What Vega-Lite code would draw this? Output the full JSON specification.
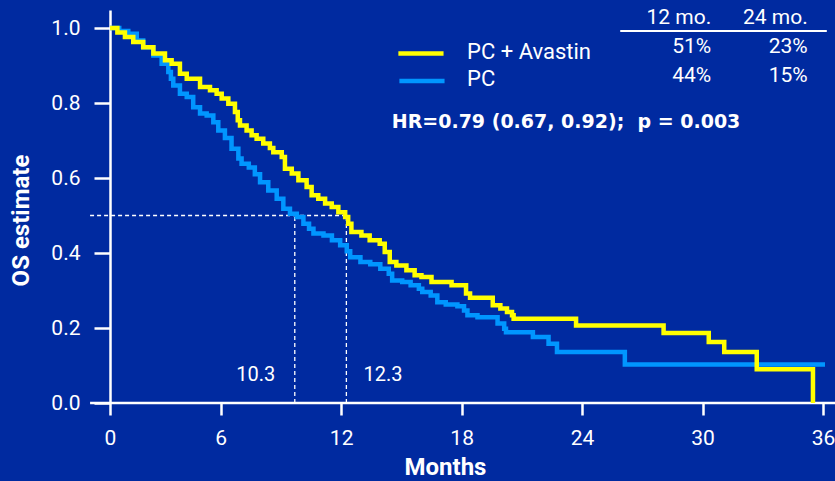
{
  "$schema": "https://vega.github.io/schema/vega-lite/v6.json",
  "autosize": {"type": "none"},
  "width": 713,
  "height": 393,
  "padding": {"left": 110, "top": 10, "right": 12, "bottom": 78},
  "background": "#002AA0",
  "config": {"view": {"stroke": null}, "font": "Roboto"},
  "datasets": {
    "km": [
      {"series": "PC + Avastin", "x": 0, "y": 1.0},
      {"series": "PC + Avastin", "x": 0.4, "y": 0.988},
      {"series": "PC + Avastin", "x": 0.81, "y": 0.976},
      {"series": "PC + Avastin", "x": 1.26, "y": 0.963},
      {"series": "PC + Avastin", "x": 1.8, "y": 0.949},
      {"series": "PC + Avastin", "x": 2.35, "y": 0.932},
      {"series": "PC + Avastin", "x": 2.98, "y": 0.914},
      {"series": "PC + Avastin", "x": 3.34, "y": 0.905},
      {"series": "PC + Avastin", "x": 3.79, "y": 0.878},
      {"series": "PC + Avastin", "x": 4.16, "y": 0.865},
      {"series": "PC + Avastin", "x": 4.88, "y": 0.843},
      {"series": "PC + Avastin", "x": 5.42, "y": 0.834},
      {"series": "PC + Avastin", "x": 5.78, "y": 0.825},
      {"series": "PC + Avastin", "x": 6.05, "y": 0.812},
      {"series": "PC + Avastin", "x": 6.38, "y": 0.798},
      {"series": "PC + Avastin", "x": 6.71, "y": 0.776},
      {"series": "PC + Avastin", "x": 6.85, "y": 0.754},
      {"series": "PC + Avastin", "x": 6.96, "y": 0.74},
      {"series": "PC + Avastin", "x": 7.29, "y": 0.727},
      {"series": "PC + Avastin", "x": 7.54, "y": 0.714},
      {"series": "PC + Avastin", "x": 7.79, "y": 0.705},
      {"series": "PC + Avastin", "x": 8.12, "y": 0.692},
      {"series": "PC + Avastin", "x": 8.45, "y": 0.68},
      {"series": "PC + Avastin", "x": 8.62, "y": 0.669},
      {"series": "PC + Avastin", "x": 9.04, "y": 0.656},
      {"series": "PC + Avastin", "x": 9.2, "y": 0.625},
      {"series": "PC + Avastin", "x": 9.54, "y": 0.612},
      {"series": "PC + Avastin", "x": 9.87, "y": 0.594},
      {"series": "PC + Avastin", "x": 10.28, "y": 0.576},
      {"series": "PC + Avastin", "x": 10.53, "y": 0.554},
      {"series": "PC + Avastin", "x": 10.86, "y": 0.545},
      {"series": "PC + Avastin", "x": 11.2, "y": 0.532},
      {"series": "PC + Avastin", "x": 11.53, "y": 0.523},
      {"series": "PC + Avastin", "x": 11.86, "y": 0.509},
      {"series": "PC + Avastin", "x": 12.2, "y": 0.496},
      {"series": "PC + Avastin", "x": 12.35, "y": 0.478},
      {"series": "PC + Avastin", "x": 12.51, "y": 0.456},
      {"series": "PC + Avastin", "x": 13.01, "y": 0.447},
      {"series": "PC + Avastin", "x": 13.42, "y": 0.434},
      {"series": "PC + Avastin", "x": 13.92, "y": 0.425},
      {"series": "PC + Avastin", "x": 14.17, "y": 0.403},
      {"series": "PC + Avastin", "x": 14.42, "y": 0.376},
      {"series": "PC + Avastin", "x": 14.75, "y": 0.367},
      {"series": "PC + Avastin", "x": 15.25, "y": 0.354},
      {"series": "PC + Avastin", "x": 15.66, "y": 0.341},
      {"series": "PC + Avastin", "x": 16.0, "y": 0.336},
      {"series": "PC + Avastin", "x": 16.5, "y": 0.323},
      {"series": "PC + Avastin", "x": 17.5, "y": 0.314},
      {"series": "PC + Avastin", "x": 18.22, "y": 0.292},
      {"series": "PC + Avastin", "x": 18.42, "y": 0.281},
      {"series": "PC + Avastin", "x": 19.55, "y": 0.261},
      {"series": "PC + Avastin", "x": 19.93, "y": 0.252},
      {"series": "PC + Avastin", "x": 20.26, "y": 0.243},
      {"series": "PC + Avastin", "x": 20.51, "y": 0.234},
      {"series": "PC + Avastin", "x": 20.59, "y": 0.225},
      {"series": "PC + Avastin", "x": 23.7, "y": 0.207},
      {"series": "PC + Avastin", "x": 28.06, "y": 0.187},
      {"series": "PC + Avastin", "x": 30.31, "y": 0.163},
      {"series": "PC + Avastin", "x": 31.08, "y": 0.136},
      {"series": "PC + Avastin", "x": 32.7, "y": 0.09},
      {"series": "PC + Avastin", "x": 35.5, "y": 0.0},
      {"series": "PC", "x": 0, "y": 1.0},
      {"series": "PC", "x": 0.5, "y": 0.992},
      {"series": "PC", "x": 0.99, "y": 0.985},
      {"series": "PC", "x": 1.45, "y": 0.967},
      {"series": "PC", "x": 1.8, "y": 0.949},
      {"series": "PC", "x": 2.35, "y": 0.927},
      {"series": "PC", "x": 2.8, "y": 0.905},
      {"series": "PC", "x": 3.16, "y": 0.883},
      {"series": "PC", "x": 3.3, "y": 0.865},
      {"series": "PC", "x": 3.43, "y": 0.847},
      {"series": "PC", "x": 3.79, "y": 0.825},
      {"series": "PC", "x": 4.16, "y": 0.816},
      {"series": "PC", "x": 4.51, "y": 0.789},
      {"series": "PC", "x": 4.88, "y": 0.772},
      {"series": "PC", "x": 5.24, "y": 0.767},
      {"series": "PC", "x": 5.6, "y": 0.749},
      {"series": "PC", "x": 5.87, "y": 0.727},
      {"series": "PC", "x": 6.21, "y": 0.707},
      {"series": "PC", "x": 6.54, "y": 0.678},
      {"series": "PC", "x": 6.88, "y": 0.652},
      {"series": "PC", "x": 7.04, "y": 0.638},
      {"series": "PC", "x": 7.4, "y": 0.628},
      {"series": "PC", "x": 7.7, "y": 0.61},
      {"series": "PC", "x": 7.96, "y": 0.589},
      {"series": "PC", "x": 8.37, "y": 0.567},
      {"series": "PC", "x": 8.79, "y": 0.545},
      {"series": "PC", "x": 9.12, "y": 0.518},
      {"series": "PC", "x": 9.45, "y": 0.505},
      {"series": "PC", "x": 9.79, "y": 0.496},
      {"series": "PC", "x": 10.12, "y": 0.478},
      {"series": "PC", "x": 10.4, "y": 0.465},
      {"series": "PC", "x": 10.62, "y": 0.452},
      {"series": "PC", "x": 11.12, "y": 0.447},
      {"series": "PC", "x": 11.54, "y": 0.434},
      {"series": "PC", "x": 11.95, "y": 0.421},
      {"series": "PC", "x": 12.28, "y": 0.405},
      {"series": "PC", "x": 12.45, "y": 0.389},
      {"series": "PC", "x": 12.96, "y": 0.376},
      {"series": "PC", "x": 13.45, "y": 0.37},
      {"series": "PC", "x": 13.95, "y": 0.358},
      {"series": "PC", "x": 14.37, "y": 0.345},
      {"series": "PC", "x": 14.54, "y": 0.327},
      {"series": "PC", "x": 15.04, "y": 0.323},
      {"series": "PC", "x": 15.46, "y": 0.314},
      {"series": "PC", "x": 15.87, "y": 0.305},
      {"series": "PC", "x": 16.04, "y": 0.296},
      {"series": "PC", "x": 16.46, "y": 0.287},
      {"series": "PC", "x": 16.79, "y": 0.269},
      {"series": "PC", "x": 17.21, "y": 0.263},
      {"series": "PC", "x": 17.79, "y": 0.258},
      {"series": "PC", "x": 18.12, "y": 0.247},
      {"series": "PC", "x": 18.29, "y": 0.234},
      {"series": "PC", "x": 18.79, "y": 0.229},
      {"series": "PC", "x": 19.79, "y": 0.212},
      {"series": "PC", "x": 20.12, "y": 0.198},
      {"series": "PC", "x": 20.21, "y": 0.189},
      {"series": "PC", "x": 21.55, "y": 0.176},
      {"series": "PC", "x": 22.33, "y": 0.158},
      {"series": "PC", "x": 22.75, "y": 0.136},
      {"series": "PC", "x": 26.13, "y": 0.103},
      {"series": "PC", "x": 36.1, "y": 0.103}
    ]
  },
  "encoding": {
    "x": {
      "field": "x", "type": "quantitative",
      "scale": {"domain": [0, 6, 36], "range": [0, 110.7, 713], "nice": false, "zero": false},
      "axis": {
        "values": [0, 6, 12, 18, 24, 30, 36], "format": "d", "grid": false, "domain": false, "labelFlush": false,
        "tickColor": "white", "tickWidth": 2.5, "tickSize": 12,
        "labelColor": "white", "labelFont": "Roboto", "labelFontSize": 21, "labelPadding": 12,
        "title": "Months", "titleColor": "white", "titleFont": "Roboto", "titleFontSize": 24, "titleFontWeight": "bold",
        "titleX": 335, "titleY": 71, "titleBaseline": "alphabetic"
      }
    },
    "y": {
      "field": "y", "type": "quantitative",
      "scale": {"domain": [0, 1.048], "nice": false, "zero": false},
      "axis": {
        "values": [0, 0.2, 0.4, 0.6, 0.8, 1.0], "format": ".1f", "grid": false, "labelFlush": false,
        "domain": true, "domainColor": "white", "domainWidth": 2.5,
        "tickColor": "white", "tickWidth": 2.5, "tickSize": 16,
        "labelColor": "white", "labelFont": "Roboto", "labelFontSize": 21, "labelPadding": 14,
        "title": "OS estimate", "titleColor": "white", "titleFont": "Roboto", "titleFontSize": 24, "titleFontWeight": "bold",
        "titleX": -89, "titleY": 210, "titleBaseline": "middle"
      }
    }
  },
  "layer": [
    {
      "data": {"values": [{"x": -1.08, "x2": 36.6, "y": 0}]},
      "mark": {"type": "rule", "color": "white", "strokeWidth": 2.5},
      "encoding": {"x2": {"field": "x2"}}
    },
    {
      "data": {"values": [
        {"x": -1.08, "x2": 12.26, "y": 0.5, "y2": 0.5},
        {"x": 9.69, "x2": 9.69, "y": 0, "y2": 0.5},
        {"x": 12.26, "x2": 12.26, "y": 0, "y2": 0.5}
      ]},
      "mark": {"type": "rule", "color": "white", "strokeWidth": 1.3, "strokeDash": [4, 3]},
      "encoding": {"x2": {"field": "x2"}, "y2": {"field": "y2"}}
    },
    {
      "data": {"name": "km"},
      "transform": [{"filter": "datum.series === 'PC'"}],
      "mark": {"type": "line", "interpolate": "step-after", "strokeWidth": 4.5},
      "encoding": {
        "color": {"field": "series", "type": "nominal", "scale": {"domain": ["PC + Avastin", "PC"], "range": ["#FFFF00", "#0096FF"]}, "legend": null}
      }
    },
    {
      "data": {"name": "km"},
      "transform": [{"filter": "datum.series === 'PC + Avastin'"}],
      "mark": {"type": "line", "interpolate": "step-after", "strokeWidth": 4.5},
      "encoding": {
        "color": {"field": "series", "type": "nominal", "legend": null}
      }
    },
    {
      "data": {"values": [
        {"series": "PC + Avastin", "x": 14.85, "x2": 17.1, "y": 0.932},
        {"series": "PC", "x": 14.9, "x2": 17.15, "y": 0.859}
      ]},
      "mark": {"type": "rule", "strokeWidth": 4.5},
      "encoding": {
        "x2": {"field": "x2"},
        "color": {"field": "series", "type": "nominal", "legend": null}
      }
    },
    {
      "data": {"values": [
        {"x": 18.27, "y": 0.935, "label": "PC + Avastin"},
        {"x": 18.27, "y": 0.865, "label": "PC"}
      ]},
      "mark": {"type": "text", "align": "left", "baseline": "middle", "color": "white", "font": "Roboto", "fontSize": 22},
      "encoding": {"text": {"field": "label"}}
    },
    {
      "data": {"values": [
        {"x": 30.43, "y": 1.026, "label": "12 mo."},
        {"x": 35.24, "y": 1.026, "label": "24 mo."},
        {"x": 30.43, "y": 0.95, "label": "51%"},
        {"x": 35.24, "y": 0.95, "label": "23%"},
        {"x": 30.43, "y": 0.873, "label": "44%"},
        {"x": 35.24, "y": 0.873, "label": "15%"}
      ]},
      "mark": {"type": "text", "align": "right", "baseline": "middle", "color": "white", "font": "Roboto", "fontSize": 21},
      "encoding": {"text": {"field": "label"}}
    },
    {
      "data": {"values": [{"x": 25.9, "x2": 36.19, "y": 0.992}]},
      "mark": {"type": "rule", "color": "white", "strokeWidth": 2},
      "encoding": {"x2": {"field": "x2"}}
    },
    {
      "data": {"values": [{"x": 14.52, "y": 0.749, "label": "HR=0.79 (0.67, 0.92);\u00a0 p = 0.003"}]},
      "mark": {"type": "text", "align": "left", "baseline": "middle", "color": "white", "font": "DejaVu Sans", "fontWeight": "bold", "fontSize": 19},
      "encoding": {"text": {"field": "label"}}
    },
    {
      "data": {"values": [
        {"x": 7.75, "y": 0.074, "label": "10.3"},
        {"x": 14.09, "y": 0.074, "label": "12.3"}
      ]},
      "mark": {"type": "text", "align": "center", "baseline": "middle", "color": "white", "font": "Roboto", "fontSize": 20},
      "encoding": {"text": {"field": "label"}}
    }
  ]
}
